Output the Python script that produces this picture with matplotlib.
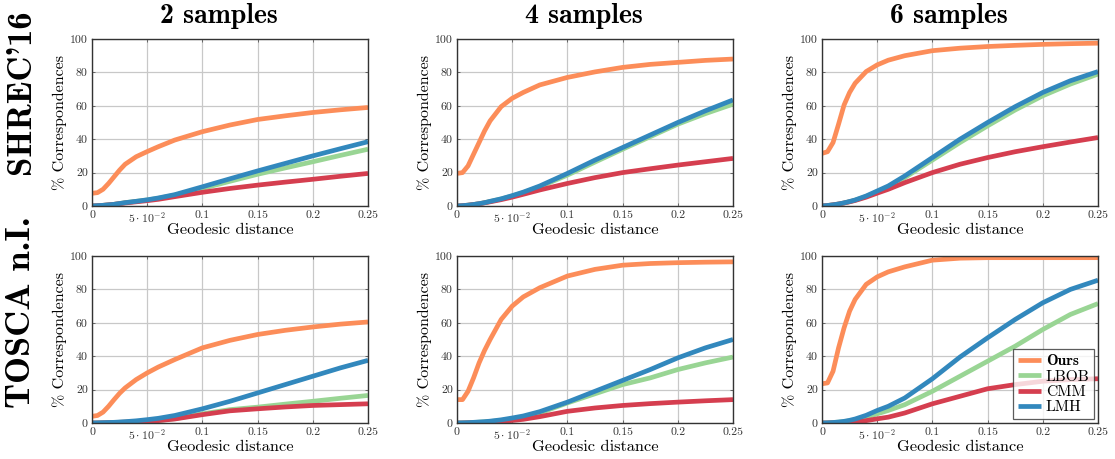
import matplotlib
matplotlib.use("Agg")
import matplotlib.pyplot as plt

#---------------- data ----------------
dist = [0, .005, .01, .015, .02, .025, .03, .04, .05, .06, .075, .1, .125, .15, .175, .2, .225, .25]

methods = ["Ours", "LBOB", "CMM", "LMH"]
colors = ["#fc8d59", "#99d594", "#d53e4f", "#3288bd"]
# cmb10 maps the ascii quote to the TeX right quote glyph
datasets = ["SHREC'16", "TOSCA n.I."]
samples = ["2 samples", "4 samples", "6 samples"]

# SHREC'16
shrec2_ours = [7.6, 8, 10, 13.5, 17.5, 21.5, 25, 29.5, 32.6, 35.5, 39.5, 44.5, 48.5, 51.8, 54, 56, 57.6, 59]
shrec2_lbob = [0, 0.2, 0.4, 0.7, 1.0, 1.5, 2.0, 2.8, 3.6, 4.6, 6.5, 10.5, 14.8, 19, 22.8, 26.5, 30.3, 34]
shrec2_cmm = [0, 0.2, 0.4, 0.7, 1.0, 1.4, 1.8, 2.5, 3.2, 4.0, 5.6, 8.2, 10.5, 12.5, 14.3, 16, 17.8, 19.5]
shrec2_lmh = [0, 0.2, 0.4, 0.7, 1.0, 1.5, 2.0, 2.8, 3.7, 4.8, 6.8, 11.5, 16.3, 21, 25.5, 30, 34.3, 38.5]

shrec4_ours = [19.5, 20, 24, 31, 38, 45, 51, 59.5, 64.5, 68, 72.5, 77, 80.3, 83, 84.8, 86, 87.2, 88]
shrec4_lbob = [0, 0.2, 0.5, 0.9, 1.4, 2.0, 2.7, 4.2, 6, 8, 11.5, 18.5, 26.3, 34, 41.5, 49, 55.3, 61]
shrec4_cmm = [0, 0.2, 0.5, 0.9, 1.3, 1.9, 2.5, 3.8, 5.3, 7, 9.6, 13.5, 17, 20, 22.3, 24.5, 26.5, 28.5]
shrec4_lmh = [0, 0.2, 0.5, 0.9, 1.4, 2.0, 2.8, 4.3, 6.2, 8.3, 12, 19.5, 27.5, 35, 42.5, 50, 57, 63.5]

shrec6_ours = [31.5, 32.5, 38, 49, 60.5, 68, 73.5, 80.5, 84.5, 87.3, 90, 93, 94.5, 95.5, 96.2, 96.8, 97.2, 97.5]
shrec6_lbob = [0, 0.3, 0.7, 1.2, 1.8, 2.6, 3.5, 5.7, 8.5, 11.5, 17, 27.5, 38, 48, 57.5, 66, 73, 79]
shrec6_cmm = [0, 0.3, 0.7, 1.2, 1.8, 2.5, 3.3, 5.3, 7.7, 10, 14, 20, 25, 29, 32.5, 35.5, 38.3, 41]
shrec6_lmh = [0, 0.3, 0.7, 1.2, 1.9, 2.7, 3.6, 6, 9, 12, 18, 29, 40, 50, 59.5, 68, 75, 80.5]

# TOSCA non-isometric
tosca2_ours = [4, 4.5, 6.5, 10, 14, 17.8, 21, 26, 30, 33.5, 38, 45, 49.5, 53, 55.5, 57.5, 59.2, 60.5]
tosca2_lbob = [0, 0, 0.1, 0.2, 0.3, 0.4, 0.5, 0.7, 1.0, 1.5, 2.6, 5.5, 8, 9.5, 11.3, 13, 14.8, 16.5]
tosca2_cmm = [0, 0, 0.1, 0.2, 0.3, 0.4, 0.5, 0.7, 0.9, 1.4, 2.4, 5, 7.3, 8.5, 9.6, 10.5, 11, 11.5]
tosca2_lmh = [0, 0.1, 0.2, 0.3, 0.4, 0.6, 0.8, 1.3, 2, 2.8, 4.5, 8.5, 13, 18, 23, 28, 33, 37.5]

tosca4_ours = [14, 14, 19, 27, 36, 43.5, 50, 62, 70, 75.5, 81, 88, 92, 94.5, 95.5, 96, 96.3, 96.5]
tosca4_lbob = [0, 0.1, 0.2, 0.3, 0.5, 0.7, 0.9, 1.5, 2.5, 3.6, 6, 12, 17.5, 23, 27, 32, 36, 39.5]
tosca4_cmm = [0, 0, 0.1, 0.2, 0.3, 0.4, 0.6, 1.0, 1.5, 2.2, 3.8, 7, 9, 10.5, 11.6, 12.5, 13.3, 14]
tosca4_lmh = [0, 0.1, 0.2, 0.4, 0.6, 0.8, 1.1, 1.9, 3, 4.2, 6.8, 12.5, 19, 25.5, 32, 39, 45, 50]

tosca6_ours = [23.5, 24, 31, 45, 57, 67, 74, 83, 87.5, 90.5, 93.5, 97.5, 98.7, 99, 99, 99, 99, 99]
tosca6_lbob = [0, 0.1, 0.3, 0.5, 0.8, 1.3, 1.9, 3.5, 5.5, 7.5, 11, 19, 28, 37, 46, 56, 65, 71.5]
tosca6_cmm = [0, 0, 0.1, 0.1, 0.2, 0.4, 0.6, 1.4, 2.5, 3.5, 6, 11.5, 16, 20.5, 23, 25, 26, 26.5]
tosca6_lmh = [0, 0.1, 0.3, 0.6, 1, 1.6, 2.4, 4.6, 7.5, 10, 15, 26.5, 39.5, 51, 62, 72, 80, 85.5]

panels = [
    [[shrec2_ours, shrec2_lbob, shrec2_cmm, shrec2_lmh],
     [shrec4_ours, shrec4_lbob, shrec4_cmm, shrec4_lmh],
     [shrec6_ours, shrec6_lbob, shrec6_cmm, shrec6_lmh]],
    [[tosca2_ours, tosca2_lbob, tosca2_cmm, tosca2_lmh],
     [tosca4_ours, tosca4_lbob, tosca4_cmm, tosca4_lmh],
     [tosca6_ours, tosca6_lbob, tosca6_cmm, tosca6_lmh]],
]

xticks = [0, 0.05, 0.1, 0.15, 0.2, 0.25]
xticklabels = ["0", r"$5\cdot10^{-2}$", "0.1", "0.15", "0.2", "0.25"]
yticks = [0, 20, 40, 60, 80, 100]

#---------------- styling ----------------
plt.rcParams["font.family"] = ["cmr10", "DejaVu Serif"]
plt.rcParams["mathtext.fontset"] = "cm"
plt.rcParams["axes.unicode_minus"] = False

W, H = 1115, 459
fig = plt.figure(figsize=(W / 100, H / 100), dpi=100)

def fx(x):
    return x / W

def fy(y):
    return 1 - y / H

ax_left = [92, 457, 822]
ax_top = [39, 256]
ax_w, ax_h = 276, 167

for r in range(2):
    for c in range(3):
        l, t = ax_left[c], ax_top[r]
        ax = fig.add_axes([fx(l), fy(t + ax_h), ax_w / W, ax_h / H])
        for k in range(4):
            ax.plot(dist, panels[r][c][k], color=colors[k], lw=3.4,
                    solid_capstyle="butt", solid_joinstyle="round",
                    label=methods[k], zorder=3)
        ax.set_xlim(0, 0.25)
        ax.set_ylim(0, 100)
        ax.set_xticks(xticks)
        ax.set_xticklabels(xticklabels)
        ax.set_yticks(yticks)
        ax.grid(True, color="#c8c8c8", lw=0.9, zorder=0)
        ax.tick_params(direction="in", length=2.5, width=0.6, colors="#555555",
                       labelcolor="#333333", labelsize=8.5, pad=3,
                       top=True, right=True)
        for sp in ax.spines.values():
            sp.set_color("#333333")
            sp.set_linewidth(1.0)
            sp.set_zorder(4)
        fig.text(fx(l + ax_w / 2), fy(t + ax_h + 24), "Geodesic distance",
                 ha="center", va="center", fontsize=11.8)
        fig.text(fx(l - 32), fy(t + ax_h / 2), "% Correspondences",
                 ha="center", va="center", rotation=90, fontsize=11.5)
        if r == 0:
            fig.text(fx(l + ax_w / 2 - 11), fy(16), samples[c], ha="center",
                     va="center", fontsize=20, family="cmb10")
        if r == 1 and c == 2:
            leg = ax.legend(loc="lower right", fontsize=11.2, handlelength=1.5,
                            handletextpad=0.3, labelspacing=0.1,
                            borderaxespad=0.25, borderpad=0.3, fancybox=False,
                            framealpha=0.8, edgecolor="#333333")
            leg.get_frame().set_linewidth(0.9)
            leg.get_texts()[0].set_fontfamily("cmb10")

fig.text(fx(22), fy(92), datasets[0], ha="center", va="center", rotation=90,
         fontsize=25, family="cmb10")
fig.text(fx(22), fy(312), datasets[1], ha="center", va="center", rotation=90,
         fontsize=26, family="cmb10")

fig.savefig("out.png", dpi=100)
